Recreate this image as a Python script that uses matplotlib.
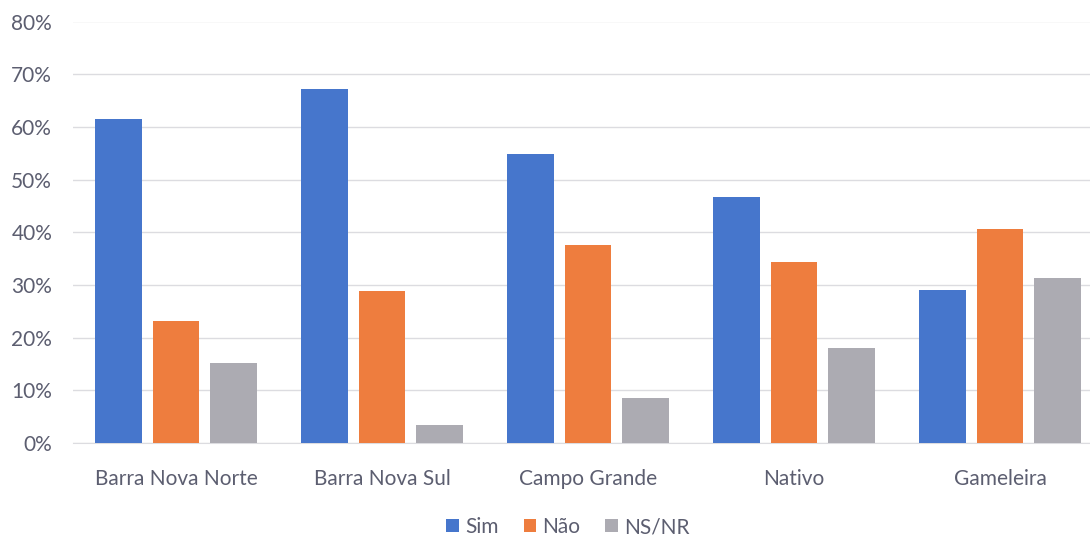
import matplotlib
matplotlib.use("Agg")
import matplotlib.pyplot as plt
import numpy as np

categories = ["Barra Nova Norte", "Barra Nova Sul", "Campo Grande", "Nativo", "Gameleira"]
series_names = ["Sim", "Não", "NS/NR"]
sim = [61.5, 67.1, 54.8, 46.7, 29.1]
nao = [23.1, 28.9, 37.6, 34.4, 40.7]
nsnr = [15.2, 3.4, 8.5, 18.1, 31.3]
yticks = [0, 10, 20, 30, 40, 50, 60, 70, 80]

colors = ["#4676CC", "#EE7D3E", "#ACABB2"]
text_color = "#5C5E70"

plt.rcParams["font.family"] = ["Lato", "DejaVu Sans"]

fig = plt.figure(figsize=(10.9, 5.38), dpi=100)
ax = fig.add_axes([73 / 1090, 1 - 443 / 538, (1103 - 73) / 1090, (443 - 21.5) / 538])

x = np.arange(len(categories))
step = 0.277
width = 0.228
for i, (vals, name) in enumerate(zip([sim, nao, nsnr], series_names)):
    ax.bar(x + (i - 1) * step, vals, width=width, color=colors[i], label=name, zorder=3)

ax.set_xlim(-0.5, len(categories) - 0.5)
ax.set_ylim(0, 80)
ax.set_yticks(yticks)
ax.set_yticklabels([f"{t}%" for t in yticks])
ax.set_xticks(x)
ax.set_xticklabels(categories)
ax.tick_params(axis="both", length=0, labelsize=15, colors=text_color)
ax.tick_params(axis="x", pad=19)
ax.tick_params(axis="y", pad=15)
ax.grid(axis="y", color="#DCDCE0", linewidth=1, zorder=0)
for s in ["top", "right", "left"]:
    ax.spines[s].set_visible(False)
ax.spines["bottom"].set_color("#DCDCE0")

fig.legend(loc="center", bbox_to_anchor=(568 / 1090, 1 - 527 / 538), ncol=3, frameon=False,
           fontsize=15, labelcolor=text_color, handlelength=0.6, handleheight=0.6,
           handletextpad=0.3, columnspacing=1.2)

fig.savefig("out.png", dpi=100, facecolor="white")
